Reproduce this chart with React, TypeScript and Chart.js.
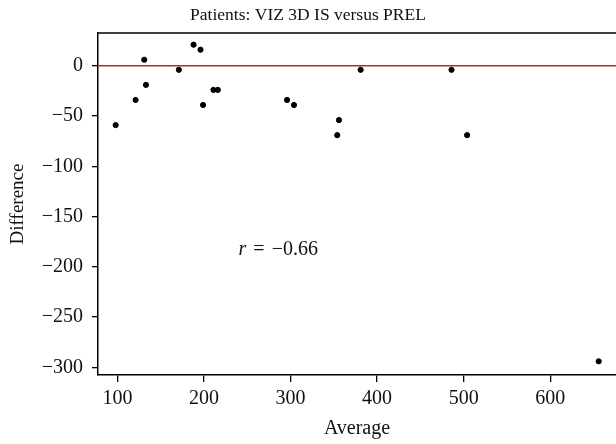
import React, { useEffect, useRef } from "react";
import { Chart, registerables } from "chart.js";

Chart.register(...registerables);

const titleText = "Patients: VIZ 3D IS versus PREL";
const xLabel = "Average";
const yLabel = "Difference";
const rLabel = "−0.66";

const averages = [98, 121, 131, 133, 171, 188, 196, 199, 211, 216, 296, 304, 356, 354, 381, 486, 504, 656];
const differences = [-59, -34, 6, -19, -4, 21, 16, -39, -24, -24, -34, -39, -54, -69, -4, -4, -69, -294];

const xTicks = [100, 200, 300, 400, 500, 600];
const yTicks = [0, -50, -100, -150, -200, -250, -300];

const X_MIN = 77.6;
const X_MAX = 676;
const Y_MIN = -307.6;
const Y_MAX = 32.6;

const FONT = "'Liberation Serif', 'Times New Roman', serif";

const fmt = (v: number) => (v < 0 ? "\u2212" + Math.abs(v) : String(v));

export default function App() {
  const ref = useRef<HTMLCanvasElement | null>(null);

  useEffect(() => {
    document.body.style.margin = "0";
    const canvas = ref.current;
    if (!canvas) return;

    const decor = {
      id: "decor",
      afterDraw(chart: any) {
        const ctx = chart.ctx;
        const { left, right, top } = chart.chartArea;
        ctx.save();
        // top border
        ctx.strokeStyle = "#000";
        ctx.lineWidth = 1.5;
        ctx.beginPath();
        ctx.moveTo(left, top);
        ctx.lineTo(right, top);
        ctx.stroke();
        // title
        ctx.fillStyle = "#111";
        ctx.font = "17.5px " + FONT;
        ctx.textAlign = "center";
        ctx.textBaseline = "middle";
        ctx.fillText(titleText, 308, 15);
        // r annotation
        const xs = chart.scales.x;
        const ys = chart.scales.y;
        const px = xs.getPixelForValue(240);
        const py = ys.getPixelForValue(-188);
        ctx.textAlign = "left";
        ctx.textBaseline = "alphabetic";
        ctx.font = "italic 20px " + FONT;
        ctx.fillText("r", px, py);
        let cx = px + ctx.measureText("r").width + 7;
        ctx.font = "20px " + FONT;
        ctx.fillText("=", cx, py);
        cx += ctx.measureText("=").width + 7;
        ctx.fillText(rLabel, cx, py);
        ctx.restore();
      },
    };

    const chart = new Chart(canvas, {
      type: "scatter",
      data: {
        datasets: [
          {
            type: "line",
            data: [
              { x: X_MIN, y: 0 },
              { x: X_MAX, y: 0 },
            ],
            borderColor: "#c0282d",
            borderWidth: 1.3,
            pointRadius: 0,
            order: 2,
          } as any,
          {
            data: averages.map((a, i) => ({ x: a, y: differences[i] })),
            backgroundColor: "#000",
            borderColor: "#000",
            pointRadius: 2.6,
            order: 1,
          },
        ],
      },
      plugins: [decor],
      options: {
        responsive: false,
        animation: false,
        devicePixelRatio: 1,
        layout: { autoPadding: false, padding: { top: 33, right: 0, left: 0, bottom: 0 } },
        plugins: { legend: { display: false }, tooltip: { enabled: false }, title: { display: false } },
        scales: {
          x: {
            type: "linear",
            min: X_MIN,
            max: X_MAX,
            afterBuildTicks: (s: any) => {
              s.ticks = xTicks.map((v) => ({ value: v }));
            },
            afterFit: (s: any) => {
              s.height = 69;
              s.paddingLeft = 0;
              s.paddingRight = 0;
            },
            grid: { drawOnChartArea: false, drawTicks: true, tickLength: 7, color: "#000", lineWidth: 1.3 },
            border: { display: true, color: "#000", width: 1.5 },
            ticks: {
              color: "#111",
              font: { family: FONT, size: 20 },
              padding: 5,
              maxRotation: 0,
              autoSkip: false,
              callback: (v: any) => fmt(Number(v)),
            },
            title: {
              display: true,
              text: xLabel,
              color: "#111",
              font: { family: FONT, size: 20 },
              padding: { top: 0, bottom: 3 },
            },
          },
          y: {
            type: "linear",
            min: Y_MIN,
            max: Y_MAX,
            afterBuildTicks: (s: any) => {
              s.ticks = yTicks.map((v) => ({ value: v }));
            },
            afterFit: (s: any) => {
              s.width = 98;
              s.paddingTop = 0;
              s.paddingBottom = 0;
            },
            grid: { drawOnChartArea: false, drawTicks: true, tickLength: 6, color: "#000", lineWidth: 1.3 },
            border: { display: true, color: "#000", width: 1.5 },
            ticks: {
              color: "#111",
              font: { family: FONT, size: 20 },
              padding: 9,
              autoSkip: false,
              callback: (v: any) => fmt(Number(v)),
            },
            title: {
              display: true,
              text: yLabel,
              color: "#111",
              font: { family: FONT, size: 19 },
              padding: { top: 7, bottom: 0 },
            },
          },
        },
      },
    });
    return () => chart.destroy();
  }, []);

  return (
    <div style={{ position: "fixed", left: 0, top: 0, width: 616, height: 444, background: "#fff" }}>
      <canvas ref={ref} width={616} height={444} />
    </div>
  );
}
